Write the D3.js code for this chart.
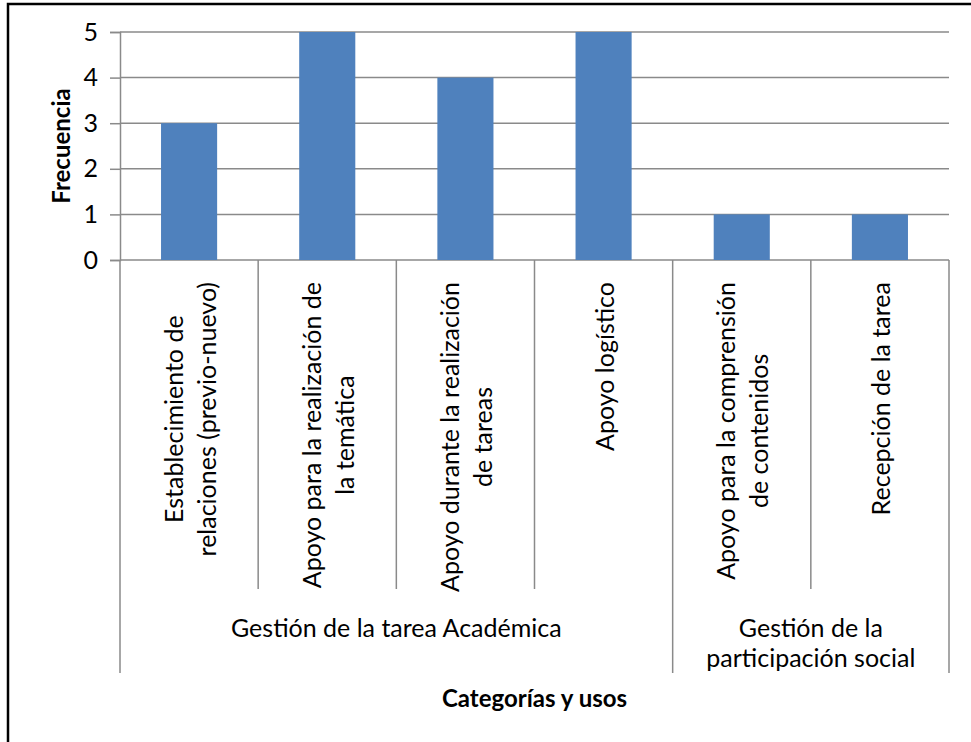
<!DOCTYPE html>
<html>
<head>
<meta charset="utf-8">
<script src="https://cdn.jsdelivr.net/npm/d3@7"></script>
<style>
  body { margin: 0; background: #fff; }
  svg text { font-family: Lato, "Open Sans", sans-serif; fill: #000; }
</style>
</head>
<body>
<div class="chart"></div>
<script>
// data
var categories = [
  "Establecimiento de|relaciones (previo-nuevo)",
  "Apoyo para la realización de|la temática",
  "Apoyo durante la realización|de tareas",
  "Apoyo logístico",
  "Apoyo para la comprensión|de contenidos",
  "Recepción de la tarea"
];
var values = [3, 5, 4, 5, 1, 1];
var groups = ["Gestión de la tarea Académica", "Gestión de la|participación social"];
var groupSizes = [4, 2];
var yTicks = [0, 1, 2, 3, 4, 5];

var svgWidth = 971;
var svgHeight = 742;

var margin = { top: 32, left: 120, right: 22, bottom: 482 };
var width = svgWidth - margin.left - margin.right;
var height = svgHeight - margin.top - margin.bottom;

var svg = d3.select(".chart")
  .append("svg")
  .attr("width", svgWidth)
  .attr("height", svgHeight);

// outer frame (runs off the right and bottom edges)
svg.append("rect")
  .attr("x", 8)
  .attr("y", 4)
  .attr("width", svgWidth + 20)
  .attr("height", svgHeight + 20)
  .attr("fill", "none")
  .attr("stroke", "#000")
  .attr("stroke-width", 2.5);

var chartGroup = svg.append("g")
  .attr("transform", `translate(${margin.left}, ${margin.top})`);

var xScale = d3.scaleBand()
  .domain(categories)
  .range([0, width])
  .paddingInner(0.594)
  .paddingOuter(0.297);

var xBand = d3.scaleBand()
  .domain(categories)
  .range([0, width]);

var yScale = d3.scaleLinear()
  .domain([0, 5])
  .range([height, 0]);

var grey = "#8a8a8a";

// gridlines
chartGroup.append("g")
  .selectAll("line")
  .data(yTicks)
  .enter()
  .append("line")
  .attr("x1", 0)
  .attr("x2", width)
  .attr("y1", d => yScale(d))
  .attr("y2", d => yScale(d))
  .attr("stroke", grey)
  .attr("stroke-width", 1.5);

// y axis
var leftAxis = d3.axisLeft(yScale)
  .tickValues(yTicks)
  .tickSize(10)
  .tickPadding(12)
  .tickFormat(d3.format("d"));

var yAxis = chartGroup.append("g").call(leftAxis);
yAxis.select(".domain").attr("stroke", grey).attr("stroke-width", 1.5);
yAxis.selectAll(".tick line").attr("stroke", grey).attr("stroke-width", 1.5);
yAxis.selectAll(".tick text")
  .attr("font-size", "25px")
  .attr("font-family", "Lato, 'Open Sans', sans-serif")
  .attr("fill", "#000");

// bars
chartGroup.selectAll("rect.bar")
  .data(values)
  .enter()
  .append("rect")
  .attr("class", "bar")
  .attr("x", (d, i) => xScale(categories[i]))
  .attr("y", d => yScale(d))
  .attr("width", xScale.bandwidth())
  .attr("height", d => height - yScale(d))
  .attr("fill", "#4F81BD");

// category separators below the axis
var sepBottom = 589 - margin.top;
var groupBottom = 673 - margin.top;
var edges = [];
var acc = 0;
var groupEdges = [0];
groupSizes.forEach(function(n) { acc += n; groupEdges.push(acc); });
for (var i = 0; i <= categories.length; i++) edges.push(i);

chartGroup.append("g")
  .selectAll("line")
  .data(edges)
  .enter()
  .append("line")
  .attr("x1", d => d * xBand.bandwidth())
  .attr("x2", d => d * xBand.bandwidth())
  .attr("y1", height)
  .attr("y2", d => groupEdges.indexOf(d) >= 0 ? groupBottom : sepBottom)
  .attr("stroke", grey)
  .attr("stroke-width", 1.5);

// rotated category labels
var labelTop = 282 - margin.top;
var lineGap = 33;
categories.forEach(function(c) {
  var lines = c.split("|");
  var cx = xBand(c) + xBand.bandwidth() / 2;
  var g = chartGroup.append("g");
  var texts = lines.map(function(l, j) {
    return g.append("text")
      .attr("text-anchor", "middle")
      .attr("dominant-baseline", "central")
      .attr("font-size", "25px")
      .text(l)
      .datum(j);
  });
  var maxLen = d3.max(texts, t => t.node().getComputedTextLength());
  var cy = labelTop + maxLen / 2;
  texts.forEach(function(t, j) {
    var lx = cx + (j - (lines.length - 1) / 2) * lineGap;
    t.attr("transform", `translate(${lx}, ${cy}) rotate(-90)`);
  });
});

// group labels
var gStart = 0;
groups.forEach(function(gname, k) {
  var x0 = gStart * xBand.bandwidth();
  var x1 = (gStart + groupSizes[k]) * xBand.bandwidth();
  gStart += groupSizes[k];
  gname.split("|").forEach(function(l, j) {
    chartGroup.append("text")
      .attr("x", (x0 + x1) / 2)
      .attr("y", 627 - margin.top + j * 30)
      .attr("text-anchor", "middle")
      .attr("dominant-baseline", "central")
      .attr("font-size", "25px")
      .text(l);
  });
});

// axis titles
chartGroup.append("text")
  .attr("x", width / 2)
  .attr("y", 697 - margin.top)
  .attr("text-anchor", "middle")
  .attr("dominant-baseline", "central")
  .attr("font-size", "24px")
  .attr("font-weight", "bold")
  .text("Categorías y usos");

chartGroup.append("text")
  .attr("transform", `translate(${60 - margin.left}, ${146 - margin.top}) rotate(-90)`)
  .attr("text-anchor", "middle")
  .attr("dominant-baseline", "central")
  .attr("font-size", "24px")
  .attr("font-weight", "bold")
  .text("Frecuencia");
</script>
</body>
</html>
